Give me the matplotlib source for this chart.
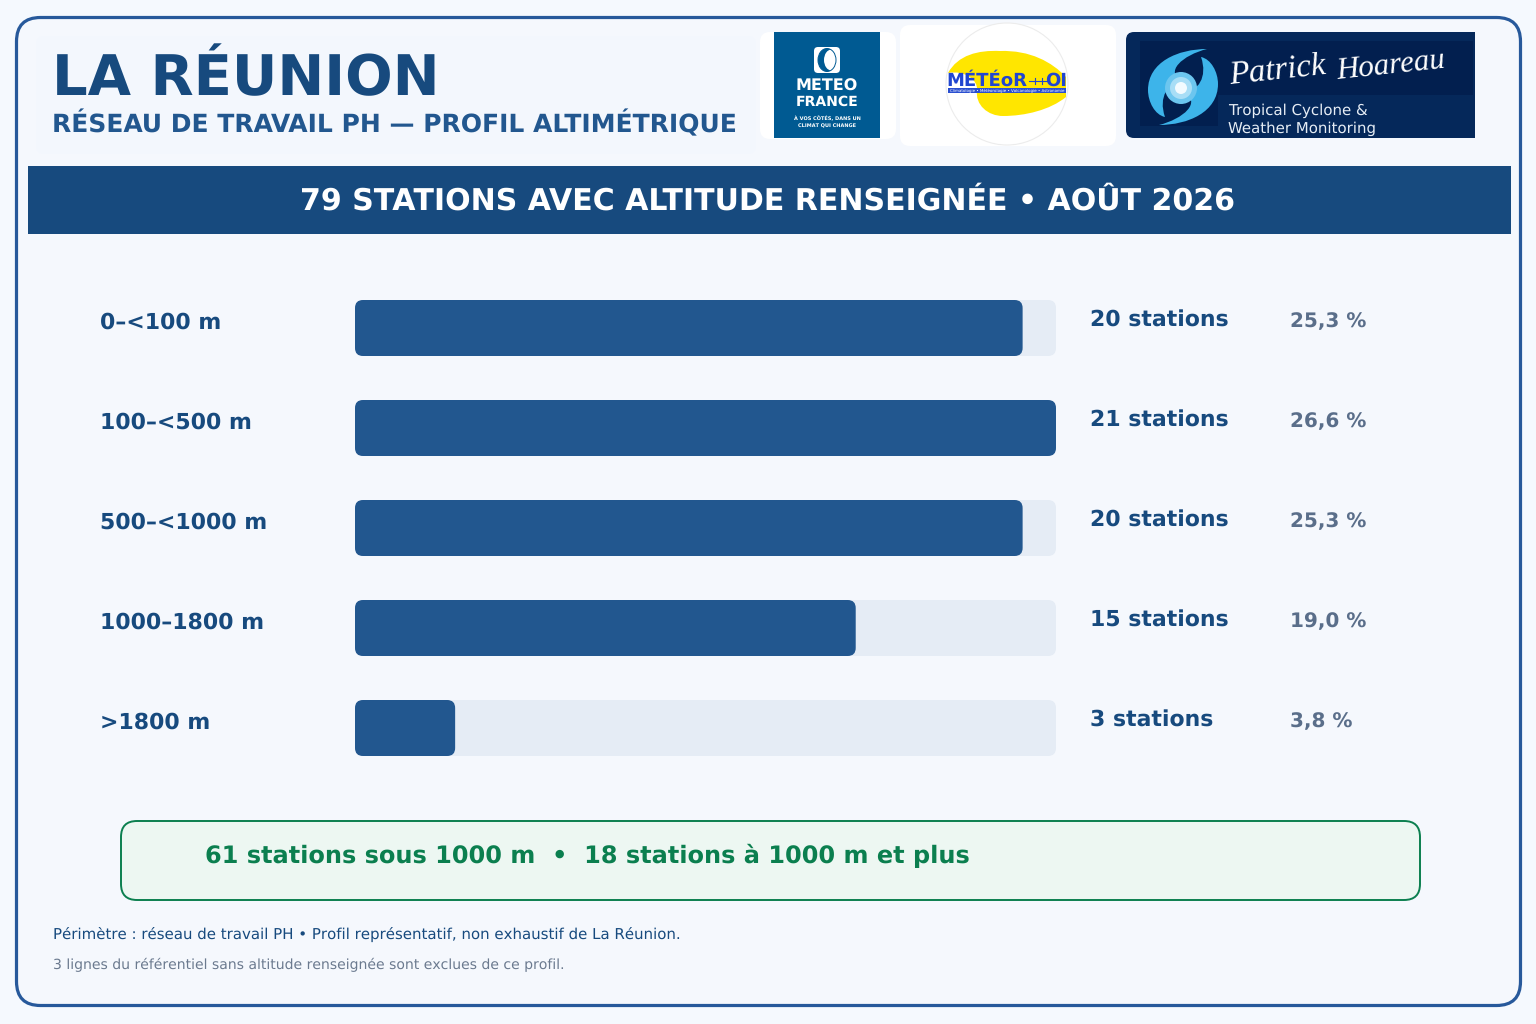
import numpy as np
import matplotlib.pyplot as plt
from matplotlib.patches import FancyBboxPatch, Rectangle, Circle, PathPatch, Ellipse
from matplotlib.path import Path

# ==========================================================
# Data
# ==========================================================

categories = ["0–<100 m", "100–<500 m", "500–<1000 m", "1000–1800 m", ">1800 m"]
station_counts = [20, 21, 20, 15, 3]
count_labels = ["20 stations", "21 stations", "20 stations", "15 stations", "3 stations"]
percent_labels = ["25,3 %", "26,6 %", "25,3 %", "19,0 %", "3,8 %"]

title = "LA RÉUNION"
subtitle = "RÉSEAU DE TRAVAIL PH — PROFIL ALTIMÉTRIQUE"
banner = "79 STATIONS AVEC ALTITUDE RENSEIGNÉE • AOÛT 2026"
summary = "61 stations sous 1000 m  •  18 stations à 1000 m et plus"
note_1 = "Périmètre : réseau de travail PH • Profil représentatif, non exhaustif de La Réunion."
note_2 = "3 lignes du référentiel sans altitude renseignée sont exclues de ce profil."

NAVY = "#174a7e"
BLUE = "#22578f"
FRAME = "#27599b"
TRACK = "#e5ecf5"
BG = "#f5f9fe"
GREEN = "#0b7f4f"

plt.rcParams["text.hinting"] = "no_hinting"
plt.rcParams["text.hinting_factor"] = 1


def rounded(ax, x, y, w, h, r, **kw):
    patch = FancyBboxPatch(
        (x + r, y + r), w - 2 * r, h - 2 * r,
        boxstyle=f"round,pad={r},rounding_size={r}",
        **kw
    )
    ax.add_patch(patch)
    return patch


fig = plt.figure(figsize=(15.36, 10.24), dpi=100, facecolor=BG)
ax = fig.add_axes([0, 0, 1, 1])
ax.set_xlim(0, 1536)
ax.set_ylim(1024, 0)
ax.axis("off")

# ==========================================================
# Frame + header
# ==========================================================

rounded(ax, 16.5, 17.5, 1504, 988, 24, facecolor="#f5f8fd", edgecolor=FRAME, linewidth=2.3)
rounded(ax, 36, 36, 720, 118, 8, facecolor="#f3f7fd", edgecolor="none")

ax.text(52, 95, title, fontsize=40, fontweight="bold", color=NAVY, va="baseline")
ax.text(52, 132, subtitle, fontsize=18, fontweight="bold", color=BLUE, va="baseline")

# ==========================================================
# Logos
# ==========================================================

# Meteo France
rounded(ax, 760, 32, 136, 107, 10, facecolor="white", edgecolor="none")
ax.add_patch(Rectangle((774, 32), 106, 106, facecolor="#005a92", edgecolor="none"))
rounded(ax, 814, 47, 26, 26, 4, facecolor="white", edgecolor="none")
ax.add_patch(Ellipse((827, 60), 18, 23, facecolor="#005a92", edgecolor="none"))
ax.add_patch(Ellipse((831.5, 60), 15, 21, facecolor="white", edgecolor="none"))
ax.add_patch(Ellipse((827, 60), 18, 23, facecolor="none", edgecolor="#005a92", linewidth=0.7))
ax.text(827, 86.5, "METEO", fontsize=11.3, fontweight="bold", color="white", ha="center", va="center")
ax.text(827, 101.5, "FRANCE", fontsize=10, fontweight="bold", color="white", ha="center", va="center")
ax.text(827, 118.5, "À VOS CÔTÉS, DANS UN", fontsize=3.7, fontweight="bold", color="white", ha="center", va="center")
ax.text(827, 125.5, "CLIMAT QUI CHANGE", fontsize=3.7, fontweight="bold", color="white", ha="center", va="center")

# Meteor OI
rounded(ax, 900, 25, 216, 121, 10, facecolor="white", edgecolor="none")
ax.add_patch(Circle((1007, 84), 61, facecolor="white", edgecolor="#ececec", linewidth=0.8))
swoosh = Path(
    [(948, 73), (958, 55), (978, 50), (1000, 51),
     (1030, 50), (1052, 62), (1066, 77), (1066, 97),
     (1050, 110), (1025, 116), (1003, 116),
     (988, 116), (975, 105), (977, 90),
     (978, 80), (965, 70), (948, 73)],
    [Path.MOVETO, Path.CURVE4, Path.CURVE4, Path.CURVE4,
     Path.CURVE4, Path.CURVE4, Path.CURVE4, Path.LINETO,
     Path.CURVE4, Path.CURVE4, Path.CURVE4,
     Path.CURVE4, Path.CURVE4, Path.CURVE4,
     Path.CURVE4, Path.CURVE4, Path.CURVE4]
)
ax.add_patch(PathPatch(swoosh, facecolor="#ffe600", edgecolor="none"))
ax.add_patch(Rectangle((948, 88), 118, 5, facecolor="#2a4fd0", edgecolor="none"))
ax.text(1027, 81, "MÉTÉoR", fontsize=13, fontweight="bold", color="#2146d0", va="center", ha="right")
ax.text(1067, 81, "OI", fontsize=13, fontweight="bold", color="#2146d0", va="center", ha="right")
ax.plot([1029, 1047], [81, 81], color="#2146d0", lw=0.8)
ax.plot([1035, 1035], [78, 84], color="#2146d0", lw=0.8)
ax.plot([1042, 1042], [78, 84], color="#2146d0", lw=0.8)
ax.text(1007, 90.5, "Climatologie • Météorologie • Volcanologie • Astronomie",
        fontsize=2.9, color="white", ha="center", va="center")

# Patrick Hoareau
rounded(ax, 1126, 32, 60, 106, 8, facecolor="#05285a", edgecolor="none")
ax.add_patch(Rectangle((1150, 32), 325, 106, facecolor="#05285a", edgecolor="none"))
ax.add_patch(Rectangle((1140, 41), 333, 54, facecolor="#021f4f", edgecolor="none"))
ax.add_patch(Rectangle((1140, 41), 78, 85, facecolor="#021f4f", edgecolor="none"))

arm = np.array([
    (24, -38), (-5, -38), (-35, -25), (-35, 3),
    (-35, 15), (-28, 28), (-18, 30),
    (-25, 10), (-15, -5), (0, -5),
    (-20, -15), (0, -32), (24, -38)
], dtype=float)
arm_codes = [Path.MOVETO] + [Path.CURVE4] * 12
centre = np.array([1183, 87])
for sign in [1, -1]:
    ax.add_patch(PathPatch(Path(centre + sign * arm, arm_codes), facecolor="#3db4ea", edgecolor="none"))
for radius, colour in [(16, "#6cc6ef"), (11, "#a8def6"), (6, "#f2fbff")]:
    ax.add_patch(Circle((1181, 88), radius, facecolor=colour, edgecolor="none"))

ax.text(1228, 72, "Patrick", fontsize=24, fontstyle="italic", color="white", va="center",
        family="Liberation Serif", rotation=6)
ax.text(1335, 66, "Hoareau", fontsize=22, fontstyle="italic", color="white", va="center",
        family="Liberation Serif", rotation=6)
ax.text(1228, 110.5, "Tropical Cyclone &", fontsize=10.5, color="#e6edf5", va="center")
ax.text(1228, 128.5, "Weather Monitoring", fontsize=10.5, color="#e6edf5", va="center")

# ==========================================================
# Banner
# ==========================================================

ax.add_patch(Rectangle((28, 166), 1483, 68, facecolor=NAVY, edgecolor="none"))
ax.text(768, 210, banner, fontsize=21.6, fontweight="bold", color="white", ha="center", va="baseline")

# ==========================================================
# Bars
# ==========================================================

bar_left = 355
track_width = 701
bar_height = 56
max_count = max(station_counts)

for i, cat in enumerate(categories):
    top = 300 + i * 100
    rounded(ax, bar_left, top, track_width, bar_height, 8, facecolor=TRACK, edgecolor="none")
    rounded(ax, bar_left, top, track_width * station_counts[i] / max_count, bar_height, 8,
            facecolor=BLUE, edgecolor="none")
    ax.text(100, top + 29, cat, fontsize=15.8, fontweight="bold", color=NAVY, va="baseline")
    ax.text(1090, top + 27, count_labels[i], fontsize=15.85, fontweight="bold", color=NAVY, va="baseline")
    ax.text(1290, top + 27, percent_labels[i], fontsize=14.3, fontweight="bold", color="#5a6e8a", va="baseline")

# ==========================================================
# Summary + notes
# ==========================================================

rounded(ax, 121, 821, 1299, 79, 16, facecolor="#edf7f2", edgecolor=GREEN, linewidth=1.4)
ax.text(205, 863, summary, fontsize=17.2, fontweight="bold", color=GREEN, va="baseline")

ax.text(53, 939, note_1, fontsize=10.67, color=NAVY, va="baseline")
ax.text(53, 969, note_2, fontsize=9.96, color="#6b7a8f", va="baseline")

fig.savefig("out.png", dpi=100, facecolor=BG)
